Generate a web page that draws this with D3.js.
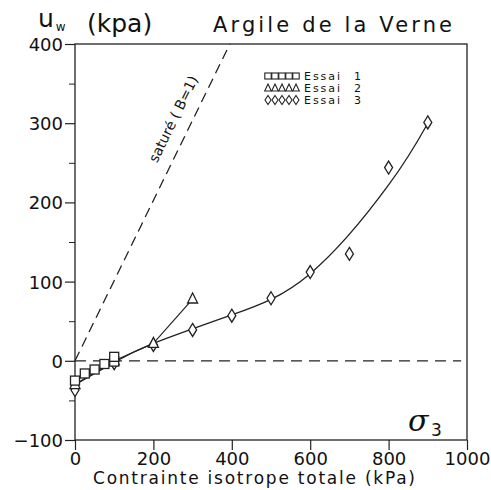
<!DOCTYPE html>
<html><head><meta charset="utf-8">
<script src="https://cdn.jsdelivr.net/npm/d3@7"></script>
<style>body{margin:0;background:#fff}svg{display:block}text{font-family:"DejaVu Sans",sans-serif;fill:#111}</style>
</head><body><svg id="c" width="491" height="490"></svg>
<script>
const xTicks=[0,200,400,600,800,1000];
const yTicks=[-100,0,100,200,300,400];
const yMinor=[-50,50,150,250,350];
const essai1=[[0,-25],[25,-16],[50,-11],[75,-4],[100,-1],[100,5]];
const essai2=[[0,-30],[100,0],[200,22],[300,78]];
const essai3=[[0,-37],[100,-3],[200,20],[300,39],[400,57],[500,79],[600,112],[700,135],[800,244],[900,301]];
const fit3=[[0,-30],[100,-2],[200,22],[400,58],[600,110],[800,222],[900,300]];
const satLine=[[0,0],[395,400]];
const zeroLine=[[0,0],[985,0]];
const legendNames=["Essai","Essai","Essai"];
const legendNums=["1","2","3"];

const svg=d3.select("#c");
const x=d3.scaleLinear().domain([0,1000]).range([75,467]);
const y=d3.scaleLinear().domain([-100,400]).range([440,44]);
const stroke="#222";

svg.append("rect").attr("x",75).attr("y",44).attr("width",392).attr("height",396)
  .attr("fill","none").attr("stroke",stroke).attr("stroke-width",1.3);

const yAx=svg.append("g").attr("transform","translate(75,0)")
  .call(d3.axisLeft(y).tickValues(yTicks).tickSize(10).tickPadding(2).tickFormat(d=>d<0?"\u2212"+(-d):String(d)));
yAx.select(".domain").remove();
yAx.selectAll("text").style("font-size","18px").attr("dy","0.36em");
yAx.selectAll("line").attr("stroke",stroke).attr("stroke-width",1.2);
svg.append("g").attr("transform","translate(75,0)")
  .call(d3.axisLeft(y).tickValues(yMinor).tickSize(6).tickFormat(""))
  .call(g=>{g.select(".domain").remove();g.selectAll("line").attr("stroke",stroke);});
const xAx=svg.append("g").attr("transform","translate(0,440)")
  .call(d3.axisBottom(x).tickValues(xTicks).tickSize(10).tickPadding(2).tickFormat(d=>String(d)));
xAx.select(".domain").remove();
xAx.selectAll("text").style("font-size","18px");
xAx.selectAll("line").attr("stroke",stroke).attr("stroke-width",1.2);

const line=d3.line().x(d=>x(d[0])).y(d=>y(d[1]));

svg.append("path").attr("d",line(zeroLine)).attr("fill","none").attr("stroke",stroke)
  .attr("stroke-width",1.3).attr("stroke-dasharray","11,7");
svg.append("path").attr("d",line(satLine)).attr("fill","none").attr("stroke",stroke)
  .attr("stroke-width",1.3).attr("stroke-dasharray","10,6");
const ang=Math.atan2(y(satLine[0][1])-y(satLine[1][1]),x(satLine[1][0])-x(satLine[0][0]))*180/Math.PI;
svg.append("text").attr("transform",`translate(${x(290)-11},${y(300)-2}) rotate(${-ang})`)
  .attr("text-anchor","middle").style("font-size","14px").text("saturé ( B=1)");

svg.append("path").attr("d",line(essai1)).attr("fill","none").attr("stroke",stroke).attr("stroke-width",1.1);
svg.append("path").attr("d",line(essai2)).attr("fill","none").attr("stroke",stroke).attr("stroke-width",1.2);
svg.append("path").attr("d",d3.line().x(d=>x(d[0])).y(d=>y(d[1])).curve(d3.curveNatural)(fit3))
  .attr("fill","none").attr("stroke",stroke).attr("stroke-width",1.3);

function sq(g,cx,cy,s){g.append("rect").attr("x",cx-s/2).attr("y",cy-s/2).attr("width",s).attr("height",s)
  .attr("fill","#fff").attr("stroke",stroke).attr("stroke-width",1.3);}
function tri(g,cx,cy,s){g.append("path").attr("d",`M${cx},${cy-s*0.6}L${cx+s/2},${cy+s*0.4}L${cx-s/2},${cy+s*0.4}Z`)
  .attr("fill","#fff").attr("stroke",stroke).attr("stroke-width",1.3);}
function dia(g,cx,cy,w,h){g.append("path").attr("d",`M${cx},${cy-h/2}L${cx+w/2},${cy}L${cx},${cy+h/2}L${cx-w/2},${cy}Z`)
  .attr("fill","#fff").attr("stroke",stroke).attr("stroke-width",1.3);}
const m=svg.append("g");
essai3.forEach(d=>dia(m,x(d[0]),y(d[1]),8,13));
essai2.forEach(d=>tri(m,x(d[0]),y(d[1]),10));
essai1.forEach(d=>sq(m,x(d[0]),y(d[1]),9));

const lg=svg.append("g");
const rowsY=[76,88,100];
[0,1,2].forEach(i=>{
  for(let k=0;k<5;k++){
    const cx=268+k*7;
    if(i===0) lg.append("rect").attr("x",cx-3.2).attr("y",rowsY[i]-3).attr("width",6.4).attr("height",6)
      .attr("fill","none").attr("stroke",stroke).attr("stroke-width",1.1);
    else if(i===1) lg.append("path").attr("d",`M${cx},${rowsY[i]-4}L${cx+3.3},${rowsY[i]+3}L${cx-3.3},${rowsY[i]+3}Z`)
      .attr("fill","none").attr("stroke",stroke).attr("stroke-width",1.1);
    else lg.append("path").attr("d",`M${cx},${rowsY[i]-4.5}L${cx+3},${rowsY[i]}L${cx},${rowsY[i]+4.5}L${cx-3},${rowsY[i]}Z`)
      .attr("fill","none").attr("stroke",stroke).attr("stroke-width",1.1);
  }
  lg.append("text").attr("x",304).attr("y",rowsY[i]+4).style("font-size","11px").attr("textLength",36).text(legendNames[i]);
  lg.append("text").attr("x",354).attr("y",rowsY[i]+4).style("font-size","11px").text(legendNums[i]);
});

const ut=svg.append("text").attr("x",38).attr("y",27).style("font-size","25px");
ut.append("tspan").text("u");
ut.append("tspan").attr("dx",2).attr("dy",4).style("font-size","12px").text("w");
svg.append("text").attr("x",87).attr("y",32).style("font-size","25px").text("(kpa)");
svg.append("text").attr("x",213).attr("y",32).style("font-size","21px").attr("textLength",239).text("Argile de la Verne");
svg.append("text").attr("x",93).attr("y",484).style("font-size","17px").attr("textLength",322)
  .text("Contrainte isotrope totale (kPa)");
svg.append("text").attr("x",408).attr("y",431).style("font-size","30px").style("font-family","'DejaVu Serif',serif")
  .style("font-style","italic").text("σ");
svg.append("text").attr("x",431).attr("y",436).style("font-size","17px").text("3");
</script></body></html>
